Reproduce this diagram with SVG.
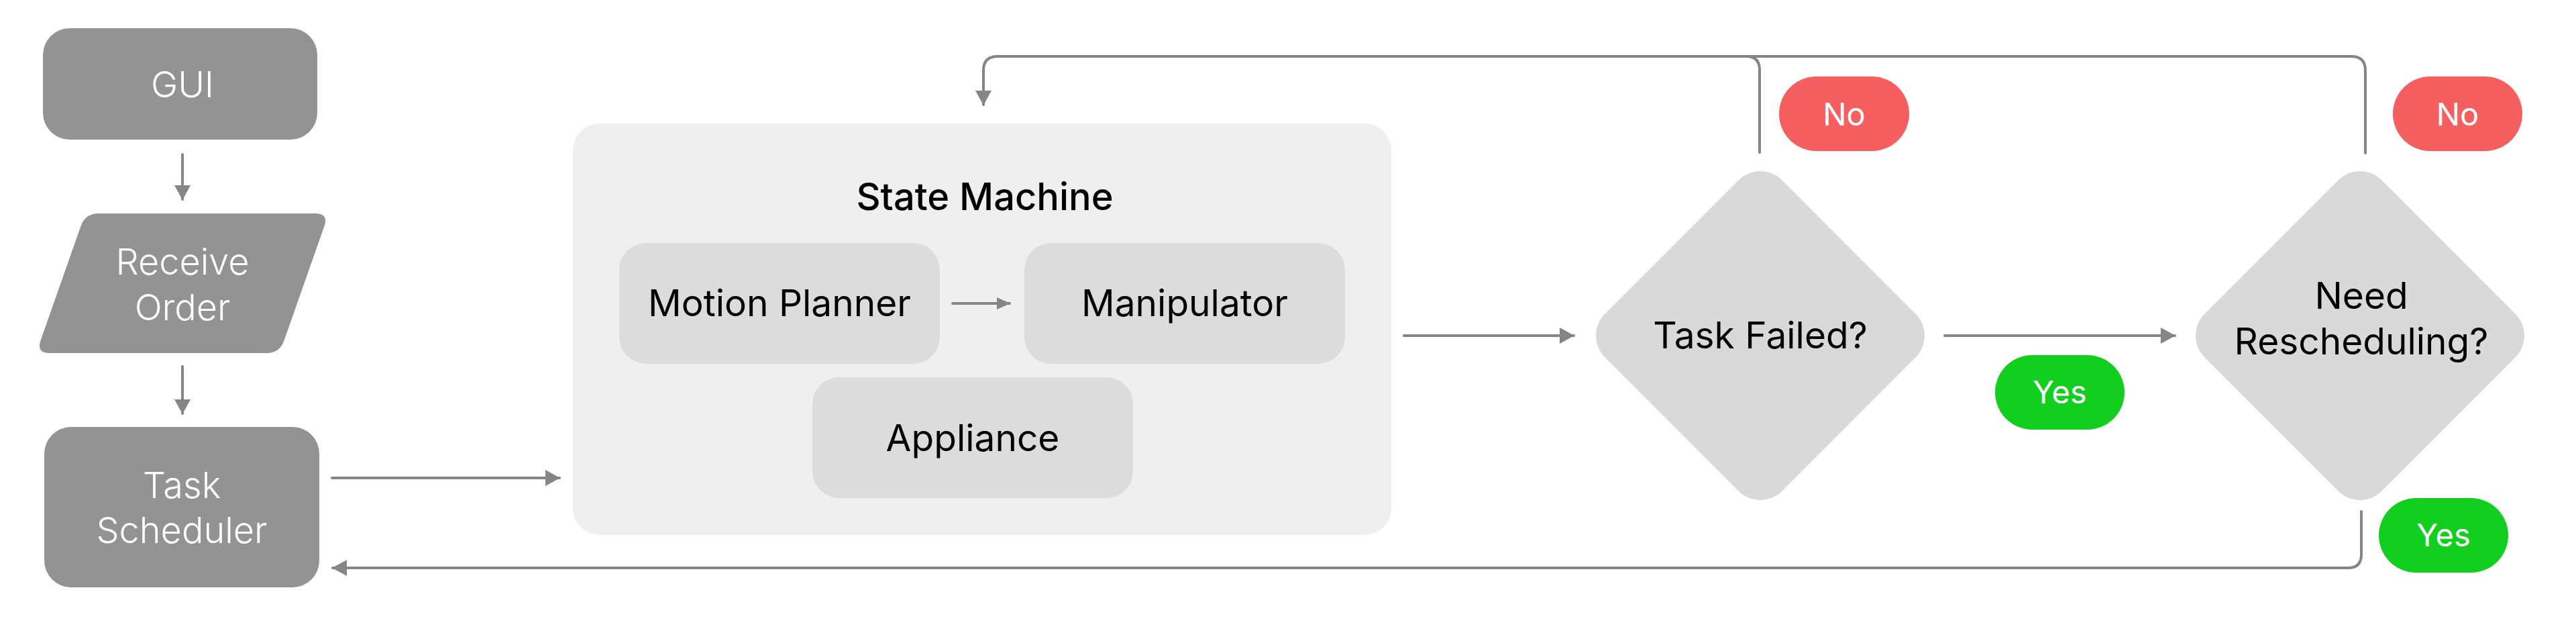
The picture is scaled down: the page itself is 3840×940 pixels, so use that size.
<svg xmlns="http://www.w3.org/2000/svg" width="3840" height="940" viewBox="0 0 3840 940">
<style>
.bg{fill:#ffffff}
.dark{fill:#939393}
.wt{font-family:Inter,"Noto Sans","Liberation Sans",sans-serif;font-size:54px;font-weight:300;fill:#ffffff;text-anchor:middle}
.bk{font-family:Inter,"Noto Sans","Liberation Sans",sans-serif;font-size:55px;fill:#000000;text-anchor:middle}
.title{font-weight:500;font-size:56px}
.pill{font-family:Inter,"Noto Sans","Liberation Sans",sans-serif;font-size:47px;fill:#ffffff;text-anchor:middle}
.container{fill:#efefef}
.inner{fill:#dcdcdc}
.dia{fill:#d9d9d9}
.no{fill:#f55f5f}
.yes{fill:#12cf1f}
.conn path{fill:none;stroke:#858585;stroke-width:4;stroke-linecap:round;stroke-linejoin:round}
</style>
<defs>
<marker id="arr" viewBox="0 0 22 24" markerWidth="22" markerHeight="24" refX="21" refY="12" orient="auto" markerUnits="userSpaceOnUse">
<path d="M0,0 L22,12 L0,24 Z" fill="#858585"/>
</marker>
<marker id="arrs" viewBox="0 0 20 18" markerWidth="20" markerHeight="18" refX="19" refY="9" orient="auto" markerUnits="userSpaceOnUse">
<path d="M0,0 L20,9 L0,18 Z" fill="#858585"/>
</marker>
<path id="diamond" d="M-32.5,-231.5 A46,46 0 0 1 32.5,-231.5 L231.5,-32.5 A46,46 0 0 1 231.5,32.5 L32.5,231.5 A46,46 0 0 1 -32.5,231.5 L-231.5,32.5 A46,46 0 0 1 -231.5,-32.5 Z"/>
</defs>
<rect class="bg" x="0" y="0" width="3840" height="940"/>

<g id="gui">
<rect class="dark" x="64" y="42" width="409" height="166" rx="40"/>
<text class="wt" x="272" y="145">GUI</text>
</g>

<g id="receive-order">
<path class="dark" d="M147,318 H470 Q490,318 483.4,336.9 L423.6,507.1 Q417,526 397,526 H74 Q54,526 60.6,507.1 L120.4,336.9 Q127,318 147,318 Z"/>
<text class="wt" x="272" y="409">Receive</text>
<text class="wt" x="272" y="477">Order</text>
</g>

<g id="task-scheduler">
<rect class="dark" x="66" y="636" width="410" height="239" rx="40"/>
<text class="wt" x="271" y="742">Task</text>
<text class="wt" x="271" y="809">Scheduler</text>
</g>

<g id="state-machine">
<rect class="container" x="854" y="184" width="1220" height="613" rx="40"/>
<text class="bk title" x="1468" y="313">State Machine</text>
</g>

<g id="motion-planner">
<rect class="inner" x="923" y="362" width="478" height="180" rx="40"/>
<text class="bk" x="1162" y="471">Motion Planner</text>
</g>

<g id="manipulator">
<rect class="inner" x="1527" y="362" width="478" height="180" rx="40"/>
<text class="bk" x="1766" y="471">Manipulator</text>
</g>

<g id="appliance">
<rect class="inner" x="1211" y="562" width="478" height="180" rx="40"/>
<text class="bk" x="1450" y="672">Appliance</text>
</g>

<g id="task-failed">
<use href="#diamond" class="dia" transform="translate(2624,500)"/>
<text class="bk" x="2624" y="519">Task Failed?</text>
</g>

<g id="need-rescheduling">
<use href="#diamond" class="dia" transform="translate(3518,500)"/>
<text class="bk" x="3520" y="460">Need</text>
<text class="bk" x="3520" y="528">Rescheduling?</text>
</g>

<g id="label-no-1">
<rect class="no" x="2652" y="114" width="194" height="111" rx="55.5"/>
<text class="pill" x="2749" y="187">No</text>
</g>

<g id="label-no-2">
<rect class="no" x="3567" y="114" width="193" height="111" rx="55.5"/>
<text class="pill" x="3663.5" y="187">No</text>
</g>

<g id="label-yes-1">
<rect class="yes" x="2974" y="529" width="193" height="111" rx="55.5"/>
<text class="pill" x="3070.5" y="601">Yes</text>
</g>

<g id="label-yes-2">
<rect class="yes" x="3546" y="742" width="193" height="111" rx="55.5"/>
<text class="pill" x="3642.5" y="814">Yes</text>
</g>

<g id="connectors" class="conn">
<path d="M272,230 V297" marker-end="url(#arr)"/>
<path d="M272,546 V616" marker-end="url(#arr)"/>
<path d="M495,712 H834" marker-end="url(#arr)"/>
<path d="M1420,452 H1505" marker-end="url(#arrs)"/>
<path d="M2093,500 H2346" marker-end="url(#arr)"/>
<path d="M2899,500 H3242" marker-end="url(#arr)"/>
<path d="M3526,228 V105 Q3526,84 3505,84 H1487 Q1466,84 1466,105 V156" marker-end="url(#arr)"/>
<path d="M2623,227 V104 Q2623,84 2603,84 H2580"/>
<path d="M3520,762 V826 Q3520,846 3500,846 H496" marker-end="url(#arr)"/>
</g>
</svg>
